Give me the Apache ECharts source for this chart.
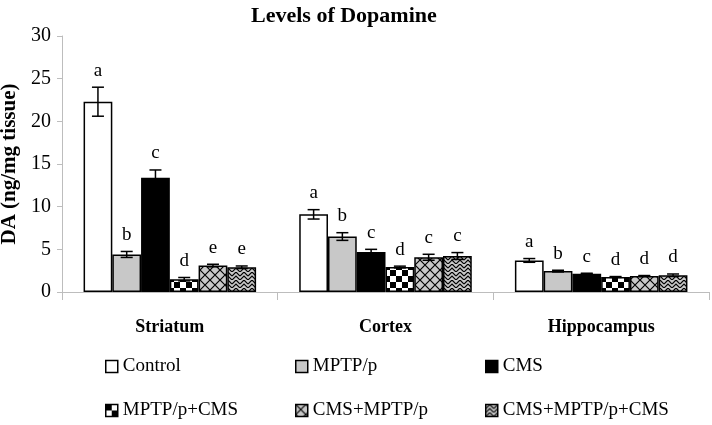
<!DOCTYPE html>
<html>
<head>
<meta charset="utf-8">
<script src="https://cdn.jsdelivr.net/npm/echarts@6/dist/echarts.min.js"></script>
<style>
  html, body { margin: 0; padding: 0; background: #fff; }
  #chart { width: 712px; height: 425px; }
</style>
</head>
<body>
<div id="chart"></div>
<script>
// data
var regions = ['Striatum', 'Cortex', 'Hippocampus']
var groups = ['Control', 'MPTP/p', 'CMS', 'MPTP/p+CMS', 'CMS+MPTP/p', 'CMS+MPTP/p+CMS']
var yTicks = [0, 5, 10, 15, 20, 25, 30]

var control = [22.3, 9.1, 3.7]
var mptp = [4.4, 6.5, 2.45]
var cms = [13.4, 4.7, 2.15]
var mptpCms = [1.5, 2.93, 1.76]
var cmsMptp = [3.1, 4.07, 1.88]
var cmsMptpCms = [2.9, 4.22, 1.96]

var controlErr = [1.7, 0.55, 0.22]
var mptpErr = [0.35, 0.45, 0.1]
var cmsErr = [0.9, 0.3, 0.05]
var mptpCmsErr = [0.2, 0.1, 0.05]
var cmsMptpErr = [0.15, 0.35, 0.05]
var cmsMptpCmsErr = [0.15, 0.4, 0.15]

var controlSig = ['a', 'a', 'a']
var mptpSig = ['b', 'b', 'b']
var cmsSig = ['c', 'c', 'c']
var mptpCmsSig = ['d', 'd', 'd']
var cmsMptpSig = ['e', 'c', 'd']
var cmsMptpCmsSig = ['e', 'c', 'd']

var values = [control, mptp, cms, mptpCms, cmsMptp, cmsMptpCms]
var errors = [controlErr, mptpErr, cmsErr, mptpCmsErr, cmsMptpErr, cmsMptpCmsErr]
var letters = [controlSig, mptpSig, cmsSig, mptpCmsSig, cmsMptpSig, cmsMptpCmsSig]

var FONT = '"Liberation Serif", "Times New Roman", serif'
var GRAY = '#c8c8c8'

// fill patterns
function makeTile(size, draw) {
  var c = document.createElement('canvas')
  c.width = size
  c.height = size
  draw(c.getContext('2d'), size)
  return c
}
var checker = makeTile(12, function (ctx, s) {
  ctx.fillStyle = '#fff'
  ctx.fillRect(0, 0, s, s)
  ctx.fillStyle = '#000'
  ctx.fillRect(0, 0, s / 2, s / 2)
  ctx.fillRect(s / 2, s / 2, s / 2, s / 2)
})
var crossHatch = makeTile(10, function (ctx, s) {
  ctx.fillStyle = GRAY
  ctx.fillRect(0, 0, s, s)
  ctx.strokeStyle = '#000'
  ctx.lineWidth = 1.2
  ctx.beginPath()
  ctx.moveTo(0, 0); ctx.lineTo(s, s)
  ctx.moveTo(s, 0); ctx.lineTo(0, s)
  ctx.stroke()
})
var zigzag = makeTile(8, function (ctx, s) {
  ctx.fillStyle = GRAY
  ctx.fillRect(0, 0, s, s)
  ctx.strokeStyle = '#000'
  ctx.lineWidth = 1.2
  ctx.beginPath()
  ctx.moveTo(0, s / 2); ctx.lineTo(s / 2, 0); ctx.lineTo(s, s / 2)
  ctx.moveTo(0, s); ctx.lineTo(s / 2, s / 2); ctx.lineTo(s, s)
  ctx.stroke()
})

var fills = [
  '#ffffff',
  GRAY,
  '#000000',
  { image: checker, repeat: 'repeat' },
  { image: crossHatch, repeat: 'repeat' },
  { image: zigzag, repeat: 'repeat' }
]

var barSeries = groups.map(function (name, i) {
  return {
    name: name,
    type: 'bar',
    data: values[i],
    barGap: '0%',
    barCategoryGap: '20%',
    itemStyle: { color: fills[i], borderColor: '#000', borderWidth: 1.5 },
    emphasis: { disabled: true },
    animation: false
  }
})

var errData = []
groups.forEach(function (name, i) {
  regions.forEach(function (r, j) {
    errData.push([j, i, values[i][j], errors[i][j], letters[i][j]])
  })
})

var errSeries = {
  type: 'custom',
  data: errData,
  z: 10,
  silent: true,
  animation: false,
  renderItem: function (params, api) {
    var cat = api.value(0)
    var s = api.value(1)
    var v = api.value(2)
    var e = api.value(3)
    var letter = errData[params.dataIndex][4]
    var band = api.size([1, 0])[0]
    var barW = band * 0.8 / groups.length
    var x = api.coord([cat, 0])[0] + (s - (groups.length - 1) / 2) * barW
    var top = api.coord([cat, v + e])[1]
    var bot = api.coord([cat, v - e])[1]
    var cap = 6
    var style = { stroke: '#000', lineWidth: 1.5 }
    return {
      type: 'group',
      children: [
        { type: 'line', shape: { x1: x, y1: top, x2: x, y2: bot }, style: style },
        { type: 'line', shape: { x1: x - cap, y1: top, x2: x + cap, y2: top }, style: style },
        { type: 'line', shape: { x1: x - cap, y1: bot, x2: x + cap, y2: bot }, style: style },
        {
          type: 'text',
          style: {
            x: x, y: top - 7, text: letter,
            align: 'center', verticalAlign: 'bottom',
            font: '19px ' + FONT, fill: '#000'
          }
        }
      ]
    }
  }
}

var legendPos = [
  [105, 357], [295, 357], [485, 357],
  [105, 401], [295, 401], [485, 401]
]
var legends = groups.map(function (name, i) {
  return {
    data: [name],
    left: legendPos[i][0],
    top: legendPos[i][1],
    itemWidth: 12,
    itemHeight: 12,
    padding: 0,
    selectedMode: false,
    icon: 'rect',
    itemStyle: { borderColor: '#000', borderWidth: 1.5 },
    textStyle: { fontFamily: FONT, fontSize: 19, color: '#000' }
  }
})

var chart = echarts.init(document.getElementById('chart'), null, { renderer: 'canvas' })
chart.setOption({
  backgroundColor: '#fff',
  animation: false,
  title: {
    text: 'Levels of Dopamine',
    left: 246,
    top: 0,
    textStyle: { fontFamily: FONT, fontSize: 22, fontWeight: 'bold', color: '#000' }
  },
  legend: legends,
  grid: { left: 62, right: 3, top: 36, bottom: 133, containLabel: false, outerBoundsMode: 'none' },
  xAxis: {
    type: 'category',
    data: regions,
    axisLine: { lineStyle: { color: '#bdbdbd', width: 1 } },
    axisTick: { show: true, length: 8, lineStyle: { color: '#bdbdbd' } },
    axisLabel: {
      margin: 26,
      fontFamily: FONT, fontSize: 18, fontWeight: 'bold', color: '#000'
    }
  },
  yAxis: {
    type: 'value',
    min: yTicks[0],
    max: yTicks[yTicks.length - 1],
    interval: 5,
    name: 'DA (ng/mg tissue)',
    nameLocation: 'middle',
    nameGap: 38,
    nameTextStyle: { fontFamily: FONT, fontSize: 21, fontWeight: 'bold', color: '#000' },
    axisLine: { show: true, lineStyle: { color: '#bdbdbd', width: 1 } },
    axisTick: { show: true, length: 5, lineStyle: { color: '#bdbdbd' } },
    splitLine: { show: false },
    axisLabel: { margin: 11, fontFamily: FONT, fontSize: 20, color: '#000' }
  },
  series: barSeries.concat([errSeries])
})
</script>
</body>
</html>
